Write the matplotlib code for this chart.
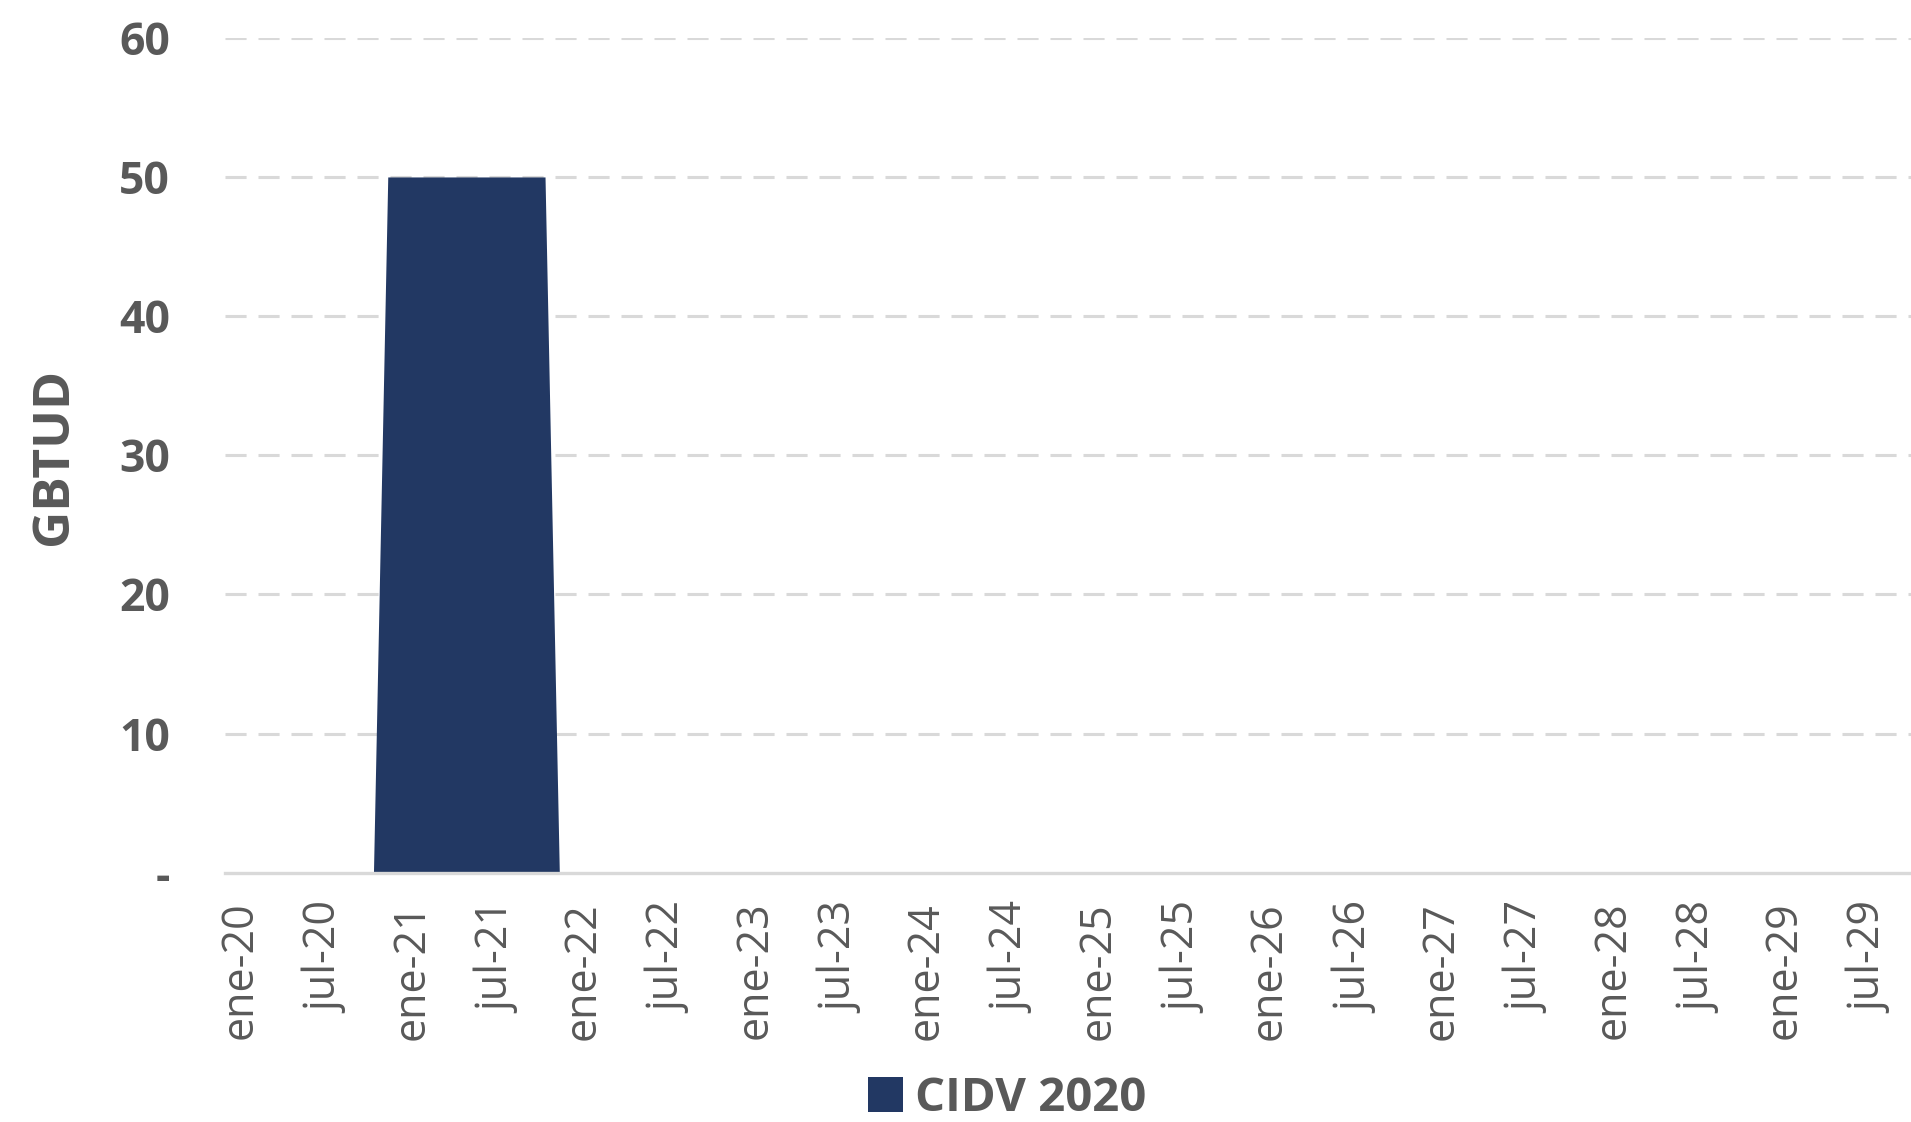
import matplotlib.pyplot as plt
from matplotlib.transforms import ScaledTranslation

# monthly series, ene-20 .. dic-29
MONTHS = ['ene', 'feb', 'mar', 'abr', 'may', 'jun',
          'jul', 'ago', 'sep', 'oct', 'nov', 'dic']
YEARS = list(range(20, 30))
labels = [f"{m}-{y}" for y in YEARS for m in MONTHS]

# CIDV 2020 contracted capacity, GBTUD
cidv_2020 = ([0] * 11          # ene-20 .. nov-20
             + [50] * 12       # dic-20 .. nov-21
             + [0] * 97)       # dic-21 .. dic-29

y_ticks = [0, 10, 20, 30, 40, 50, 60]
y_tick_labels = ['-', '10', '20', '30', '40', '50', '60']

NAVY = '#223863'
GREY_TXT = '#595959'
GRID = '#D9D9D9'

fig = plt.figure(figsize=(19.11, 11.22), dpi=100)
ax = fig.add_axes([0.118, 0.2222, 0.882, 0.7441])

x = list(range(len(cidv_2020)))
ax.fill_between(x, cidv_2020, 0, color=NAVY, linewidth=0, zorder=2,
                label='CIDV 2020')

ax.set_xlim(-0.35, 117.55)
ax.set_ylim(0, 60)

for y in y_ticks[1:]:
    ax.axhline(y, color=GRID, lw=2.2, ls=(0, (6.9, 3.9)), zorder=1)
ax.axhline(0, color=GRID, lw=2.4, zorder=3, clip_on=False)

for s in ax.spines.values():
    s.set_visible(False)

ax.set_yticks(y_ticks)
ax.set_yticklabels(y_tick_labels, fontfamily='Open Sans', fontweight='bold',
                   fontsize=32, color=GREY_TXT)
ax.tick_params(axis='y', length=0, pad=40)

six = x[::6]
ax.set_xticks(six)
ax.set_xticklabels([labels[i] for i in six], rotation=90,
                   fontfamily='Open Sans', fontsize=31, color=GREY_TXT)
ax.tick_params(axis='x', length=0, pad=21)
# nudge the rotated month labels a little to the right
shift = ScaledTranslation(10 / 100, 0, fig.dpi_scale_trans)
for lab in ax.get_xticklabels():
    lab.set_transform(lab.get_transform() + shift)

fig.text(0.0283, 0.5935, 'GBTUD', rotation=90, ha='center', va='center',
         fontfamily='Open Sans', fontweight='bold', fontsize=37,
         color=GREY_TXT)

leg = fig.legend(loc='center', bbox_to_anchor=(0.527, 0.021), frameon=False,
                 handlelength=0.75, handleheight=0.75, handletextpad=0.25,
                 borderpad=0.1,
                 prop={'family': 'Open Sans', 'weight': 'bold', 'size': 34})
for t in leg.get_texts():
    t.set_color(GREY_TXT)

fig.savefig('out.png', dpi=100)
